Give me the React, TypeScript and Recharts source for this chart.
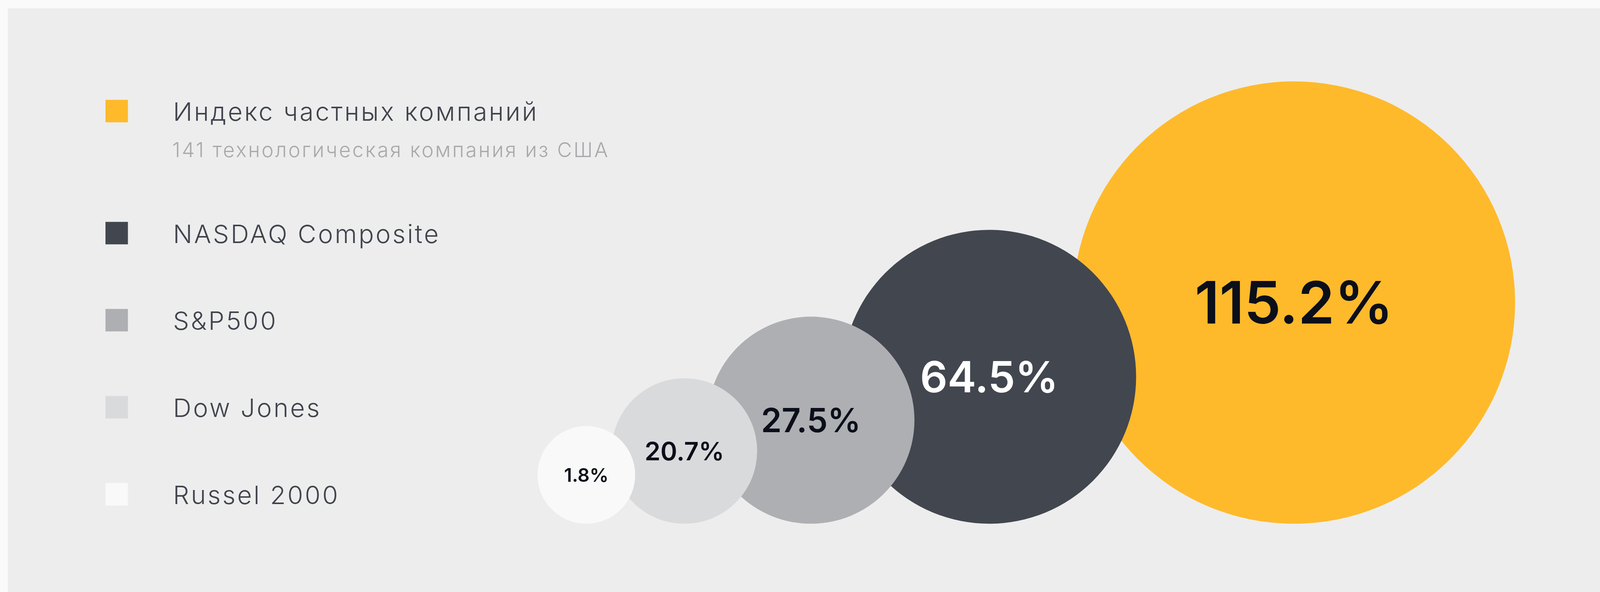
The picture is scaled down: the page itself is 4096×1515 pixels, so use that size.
import { ScatterChart, Scatter, XAxis, YAxis, ZAxis } from 'recharts'

// index names, total return in %, and the note under the first one
const indexNames = ['Индекс частных компаний', 'NASDAQ Composite', 'S&P500', 'Dow Jones', 'Russel 2000']
const returnsPct = [115.2, 64.5, 27.5, 20.7, 1.8]
const indexNotes = ['141 технологическая компания из США', '', '', '', '']

const COLORS = ['#FEBA2B', '#42464F', '#AEAFB3', '#D9DADC', '#F9F9F9']
const LABEL_COLORS = ['#0B0F19', '#FFFFFF', '#0B0F19', '#0B0F19', '#0B0F19']

const WIDTH = 4096
const HEIGHT = 1515
const FONT = 'Inter, "Noto Sans", sans-serif'

// place by return, 1 = best
const ranks = returnsPct.map((v) => 1 + returnsPct.filter((o) => o > v).length)
const points = indexNames.map((name, i) => ({ name, value: returnsPct[i], rank: ranks[i] }))

// bubbles sit on the baseline; the z scale gives the radius
const makeBubble = (i: number) => (props: any) => {
  const { cx, cy, size, width, payload } = props
  const r = typeof size === 'number' ? size : Math.PI * (width / 2) ** 2
  const y = cy - r
  const fontSize = 1.29 * Math.pow(r, 0.75)
  return (
    <g>
      <circle cx={cx} cy={y} r={r} fill={COLORS[i]} />
      <text
        x={cx}
        y={y + fontSize * 0.36}
        textAnchor="middle"
        fontFamily={FONT}
        fontWeight={600}
        fontSize={fontSize}
        fill={LABEL_COLORS[i]}
      >
        {`${payload?.value ?? props.value}%`}
      </text>
    </g>
  )
}

const LEGEND_TOP = 255.5
const ROW_STEP = 222.8
const NOTE_EXTRA = 89.5

function IndexLegend() {
  return (
    <svg width={WIDTH} height={HEIGHT} style={{ position: 'absolute', left: 0, top: 0 }}>
      {indexNames.map((name, i) => {
        const top = i === 0 ? LEGEND_TOP : LEGEND_TOP + NOTE_EXTRA + i * ROW_STEP
        return (
          <g key={name}>
            <rect x={270} y={top} width={57.5} height={57.5} fill={COLORS[i]} />
            <text
              x={443}
              y={top + 53.7}
              fontFamily={FONT}
              fontWeight={300}
              fontSize={65}
              letterSpacing={4.4}
              fill="#40444D"
            >
              {name}
            </text>
            {indexNotes[i] && (
              <text
                x={441}
                y={top + 146.3}
                fontFamily={FONT}
                fontWeight={300}
                fontSize={52}
                letterSpacing={4}
                fill="#A9A9AB"
              >
                {indexNotes[i]}
              </text>
            )}
          </g>
        )
      })}
    </svg>
  )
}

export default function App() {
  return (
    <div style={{ position: 'absolute', left: 0, top: 0, width: WIDTH, height: HEIGHT, background: '#FAFAFA', overflow: 'hidden' }}>
      <div style={{ position: 'absolute', left: 20, top: 21, right: 0, bottom: 0, background: '#EDEDED' }} />
      <div style={{ position: 'absolute', left: 0, top: 0 }}>
        <ScatterChart width={WIDTH} height={HEIGHT} margin={{ top: 0, right: 783.4, bottom: 174.7, left: 1501 }}>
          <XAxis type="number" dataKey="rank" scale="log" domain={['dataMin', 'dataMax']} reversed hide />
          <YAxis type="number" dataKey={() => 0} domain={[0, 1]} hide />
          <ZAxis type="number" dataKey="rank" scale="log" domain={['dataMin', 'dataMax']} range={[566, 125]} />
          {points.map((p, i) => (
            <Scatter
              key={p.name}
              name={p.name}
              data={[p]}
              fill={COLORS[i]}
              shape={makeBubble(i)}
              isAnimationActive={false}
            />
          ))}
        </ScatterChart>
      </div>
      <IndexLegend />
    </div>
  )
}
